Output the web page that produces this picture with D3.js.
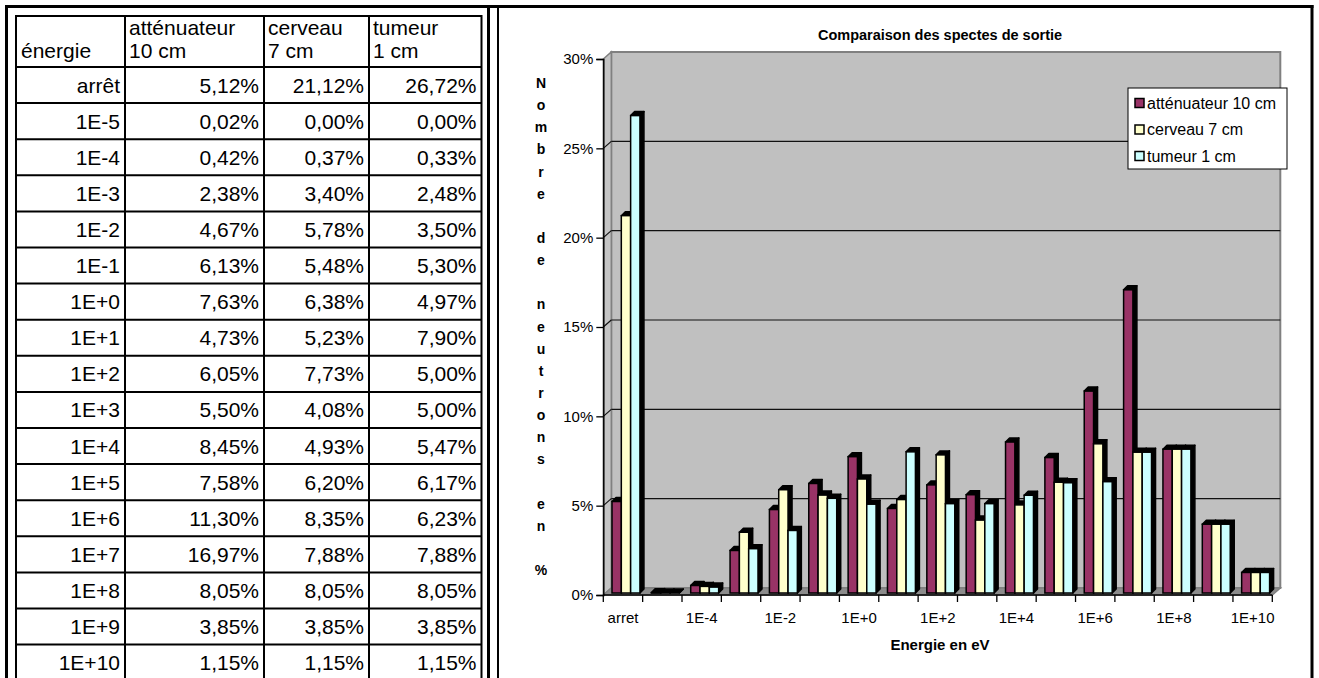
<!DOCTYPE html>
<html>
<head>
<meta charset="utf-8">
<script src="https://cdn.jsdelivr.net/npm/d3@7"></script>
<style>
  html, body { margin: 0; padding: 0; background: #fff; overflow: hidden; }
  text { font-family: "Liberation Sans", Arial, sans-serif; fill: #000; }
</style>
</head>
<body>
<svg id="fig" width="1319" height="678"></svg>
<script>
// ---- data -------------------------------------------------------------
const energies   = ["arrêt", "1E-5", "1E-4", "1E-3", "1E-2", "1E-1", "1E+0", "1E+1", "1E+2",
                    "1E+3", "1E+4", "1E+5", "1E+6", "1E+7", "1E+8", "1E+9", "1E+10"];
const axisCats   = ["arret", "1E-5", "1E-4", "1E-3", "1E-2", "1E-1", "1E+0", "1E+1", "1E+2",
                    "1E+3", "1E+4", "1E+5", "1E+6", "1E+7", "1E+8", "1E+9", "1E+10"];
const seriesNames = ["atténuateur 10 cm", "cerveau 7 cm", "tumeur 1 cm"];
const headerLine1 = ["atténuateur", "cerveau", "tumeur"];
const headerLine2 = ["10 cm", "7 cm", "1 cm"];
const attenuateur = [5.12, 0.02, 0.42, 2.38, 4.67, 6.13, 7.63, 4.73, 6.05, 5.50, 8.45, 7.58, 11.30, 16.97, 8.05, 3.85, 1.15];
const cerveau     = [21.12, 0.00, 0.37, 3.40, 5.78, 5.48, 6.38, 5.23, 7.73, 4.08, 4.93, 6.20, 8.35, 7.88, 8.05, 3.85, 1.15];
const tumeur      = [26.72, 0.00, 0.33, 2.48, 3.50, 5.30, 4.97, 7.90, 5.00, 5.00, 5.47, 6.17, 6.23, 7.88, 8.05, 3.85, 1.15];
const yTicks      = [0, 5, 10, 15, 20, 25, 30];
const shownTicks  = ["arret", "1E-4", "1E-2", "1E+0", "1E+2", "1E+4", "1E+6", "1E+8", "1E+10"];
const seriesColors = ["#993366", "#FFFFCC", "#CCFFFF"];
const chartTitle = "Comparaison des spectes de sortie";
const xTitle = "Energie en eV";
const yTitle = "Nombre de neutrons en %";

const series = [attenuateur, cerveau, tumeur];

const svg = d3.select("#fig");
const fr = d3.formatLocale({ decimal: ",", thousands: " ", grouping: [3], currency: ["", "€"] });
const pct = v => fr.format(".2f")(v) + "%";

// ---- table ------------------------------------------------------------
const tbl = svg.append("g").attr("class", "table");
const colX = [16, 125, 264, 369, 481.5];
const headTop = 16, headBottom = 67, rowH = 36.1;
const rowY = d3.range(energies.length + 1).map(i => headBottom + i * rowH);
const tFont = 21;

// grid lines
colX.forEach(x => tbl.append("line").attr("x1", x).attr("x2", x).attr("y1", headTop - 1).attr("y2", 690)
  .attr("stroke", "#000").attr("stroke-width", 2));
[headTop].concat(rowY).forEach(y => tbl.append("line").attr("x1", colX[0]).attr("x2", colX[4])
  .attr("y1", y).attr("y2", y).attr("stroke", "#000").attr("stroke-width", 2));

// header
tbl.append("text").attr("x", colX[0] + 5).attr("y", 58).attr("font-size", tFont).text("énergie");
headerLine1.forEach((h, j) => {
  tbl.append("text").attr("x", colX[j + 1] + 4).attr("y", 35).attr("font-size", tFont).text(h);
  tbl.append("text").attr("x", colX[j + 1] + 4).attr("y", 58).attr("font-size", tFont).text(headerLine2[j]);
});
// body
energies.forEach((e, i) => {
  const yb = rowY[i] + rowH / 2 + 7.5;
  tbl.append("text").attr("x", colX[1] - 5).attr("y", yb).attr("text-anchor", "end")
    .attr("font-size", tFont).text(e);
  series.forEach((s, j) => {
    tbl.append("text").attr("x", colX[j + 2] - 5).attr("y", yb).attr("text-anchor", "end")
      .attr("font-size", tFont).text(pct(s[i]));
  });
});

// ---- frame ------------------------------------------------------------
const frame = svg.append("g").attr("class", "frame");
const vline = (x, y1, w) => frame.append("line").attr("x1", x).attr("x2", x).attr("y1", y1).attr("y2", 690)
  .attr("stroke", "#000").attr("stroke-width", w);
vline(6.5, 5, 3);
vline(488.5, 5, 3);
vline(498, 6, 2);
vline(1312, 5, 3);
frame.append("line").attr("x1", 5).attr("x2", 1313.5).attr("y1", 6.5).attr("y2", 6.5)
  .attr("stroke", "#000").attr("stroke-width", 3);

// ---- chart ------------------------------------------------------------
const ch = svg.append("g").attr("class", "chart");
const X0 = 603.3, X1 = 1272.3, DX = 8, DY = 7;   // front axis extent and wall depth
const y = d3.scaleLinear().domain([0, 30]).range([595, 59]);
const x = d3.scaleBand().domain(axisCats).range([X0, X1]).paddingInner(0.29).paddingOuter(0.145);
const xs = d3.scaleBand().domain(seriesNames).range([0, x.bandwidth()]);
const step = x.step();
const catStart = c => x(c) - (step - x.bandwidth()) / 2;

const poly = pts => "M" + pts.map(p => p.join(",")).join("L") + "Z";

// walls and floor
ch.append("path").attr("d", poly([[X0 + DX, y(30) - DY], [X1 + DX, y(30) - DY], [X1 + DX, y(0) - DY], [X0 + DX, y(0) - DY]]))
  .attr("fill", "#c0c0c0").attr("stroke", "#808080").attr("stroke-width", 2);
ch.append("path").attr("d", poly([[X0, y(30)], [X0 + DX, y(30) - DY], [X0 + DX, y(0) - DY], [X0, y(0)]]))
  .attr("fill", "#c4c4c4").attr("stroke", "#808080").attr("stroke-width", 1.5);
ch.append("path").attr("d", poly([[X0, y(0)], [X0 + DX, y(0) - DY], [X1 + DX, y(0) - DY], [X1, y(0)]]))
  .attr("fill", "#8c8c8c").attr("stroke", "#808080").attr("stroke-width", 1.5);

// gridlines on back and side wall
yTicks.filter(t => t > 0 && t < 30).forEach(t => {
  ch.append("line").attr("x1", X0 + DX).attr("x2", X1 + DX).attr("y1", y(t) - DY).attr("y2", y(t) - DY)
    .attr("stroke", "#111").attr("stroke-width", 1.2);
  ch.append("line").attr("x1", X0).attr("x2", X0 + DX).attr("y1", y(t)).attr("y2", y(t) - DY)
    .attr("stroke", "#111").attr("stroke-width", 1.2);
});

// value axis
const yAxis = d3.axisLeft(y).tickValues(yTicks).tickSize(7).tickPadding(3).tickFormat(d => d + "%");
const ya = ch.append("g").attr("transform", `translate(${X0},0)`).call(yAxis);
ya.select(".domain").attr("stroke", "#000").attr("stroke-width", 1.5);
ya.selectAll(".tick line").attr("stroke", "#000").attr("stroke-width", 1.3);
ya.selectAll(".tick text").attr("font-family", "Liberation Sans, Arial, sans-serif").attr("font-size", 15).attr("fill", "#000");

// category axis
ch.append("line").attr("x1", X0).attr("x2", X1).attr("y1", y(0)).attr("y2", y(0)).attr("stroke", "#000").attr("stroke-width", 1.5);
d3.range(axisCats.length + 1).forEach(i => {
  const xx = X0 + i * step;
  ch.append("line").attr("x1", xx).attr("x2", xx).attr("y1", y(0)).attr("y2", y(0) + 7)
    .attr("stroke", "#000").attr("stroke-width", 1.3);
});
shownTicks.forEach(c => {
  ch.append("text").attr("x", catStart(c) + step / 2).attr("y", 623).attr("text-anchor", "middle")
    .attr("font-size", 15).text(c);
});

// bars (front face, top and side in depth)
const BD = 4, BX = 3, BY = 2;
axisCats.forEach((c, i) => {
  series.forEach((s, j) => {
    const bx = x(c) + xs(seriesNames[j]) + BX;
    const w = xs.bandwidth();
    const yt = y(s[i]) - BY, yb = y(0) - BY;
    const g = ch.append("g");
    g.append("path").attr("d", poly([[bx + w, yt], [bx + w + BD, yt - BD], [bx + w + BD, yb - BD], [bx + w, yb]]))
      .attr("fill", "#000").attr("stroke", "#000").attr("stroke-width", 1.5).attr("stroke-linejoin", "round");
    g.append("path").attr("d", poly([[bx, yt], [bx + BD, yt - BD], [bx + w + BD, yt - BD], [bx + w, yt]]))
      .attr("fill", "#000").attr("stroke", "#000").attr("stroke-width", 1.5).attr("stroke-linejoin", "round");
    g.append("rect").attr("x", bx).attr("y", yt).attr("width", w).attr("height", yb - yt)
      .attr("fill", seriesColors[j]).attr("stroke", "#000").attr("stroke-width", 1.5);
  });
});

// titles
ch.append("text").attr("x", 940).attr("y", 40).attr("text-anchor", "middle")
  .attr("font-size", 14.5).attr("font-weight", "bold").text(chartTitle);
ch.append("text").attr("x", 940).attr("y", 650).attr("text-anchor", "middle")
  .attr("font-size", 15).attr("font-weight", "bold").text(xTitle);
Array.from(yTitle).forEach((ch1, k) => {
  if (ch1 === " ") return;
  ch.append("text").attr("x", 541).attr("y", 88 + k * 22.14).attr("text-anchor", "middle")
    .attr("font-size", 14).attr("font-weight", "bold").text(ch1);
});

// legend
const lg = ch.append("g").attr("transform", "translate(1128,88)");
lg.append("rect").attr("width", 159).attr("height", 81).attr("fill", "#fff").attr("stroke", "#000").attr("stroke-width", 1);
seriesNames.forEach((n, j) => {
  const cy = 15 + j * 26.5;
  lg.append("rect").attr("x", 7).attr("y", cy - 4.5).attr("width", 9).attr("height", 9)
    .attr("fill", seriesColors[j]).attr("stroke", "#000").attr("stroke-width", 1.5);
  lg.append("text").attr("x", 19).attr("y", cy + 5.5).attr("font-size", 16).text(n);
});
</script>
</body>
</html>
